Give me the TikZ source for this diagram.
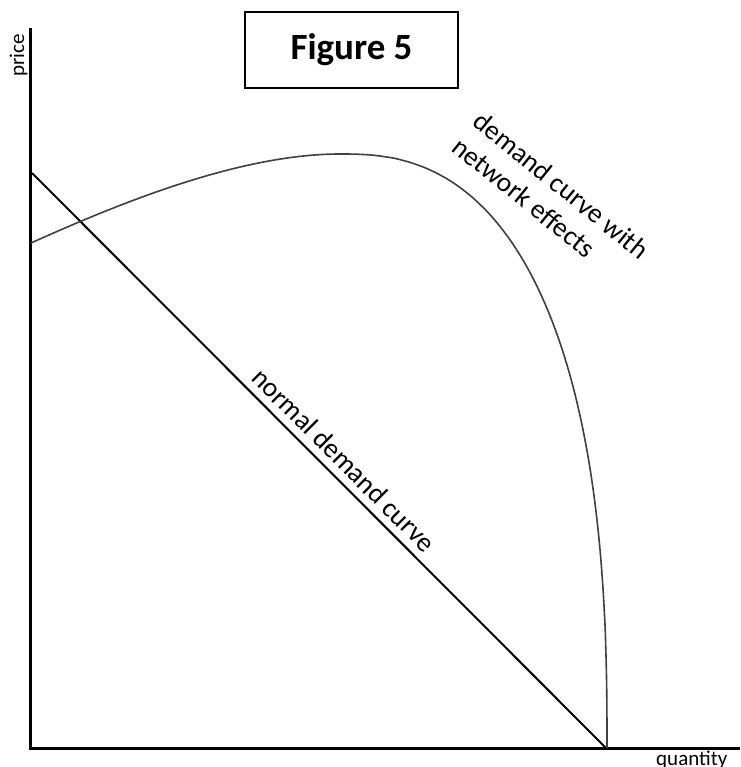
\documentclass[tikz,border=0pt]{standalone}
\usepackage{fontspec}
\setmainfont{Carlito}
\begin{document}
\begin{tikzpicture}[x=1pt,y=-1pt,
  axis/.style={line width=3pt,black,line join=miter},
  normline/.style={line width=2pt,black},
  netcurve/.style={line width=1.6pt,black!75},
  lbl/.style={inner sep=0pt,font=\fontsize{27.5}{33}\selectfont},
  axlbl/.style={inner sep=0pt,font=\fontsize{21}{25}\selectfont},
  figbox/.style={draw,line width=1.3pt,minimum width=213pt,minimum height=76pt,inner sep=0pt,font=\fontsize{37}{40}\selectfont\bfseries}]
\useasboundingbox (0,0) rectangle (740,767);
\fill[white] (0,0) rectangle (740,767);
% axes
\coordinate (top) at (30.7,28);
\coordinate (origin) at (30.7,748.7);
\coordinate (right) at (740,748.7);
\draw[axis] (top) -- (origin) -- (right);
\node[axlbl,rotate=90,anchor=base west] (price) at (24,77) {price};
\node[axlbl,anchor=base west] (quantity) at (656,765) {quantity};
% title
\node[figbox] (fig) at (351.5,50) {Figure 5};
% normal demand
\coordinate (nstart) at (32,173);
\coordinate (nend) at (606,748);
\draw[normline] (nstart) -- (nend);
\node[lbl,rotate=-45] (nlab) at (344,460) {normal demand curve};
% network curve
\coordinate (cstart) at (31,243);
\coordinate (cpeak) at (340,154);
\coordinate (cend) at (607,748);
\draw[netcurve,line join=round] (cstart) .. controls (120,203) and (240,154) .. (cpeak)
  -- plot[domain=89.5:0.5,samples=120,variable=\t]
     ({340+267*pow(cos(\t),0.8)},{748-594*pow(sin(\t),0.8)})
  -- (cend);
\node[lbl,rotate=-39,align=left] (netlab) at (551,198) {demand curve with\\network effects};
\end{tikzpicture}
\end{document}
